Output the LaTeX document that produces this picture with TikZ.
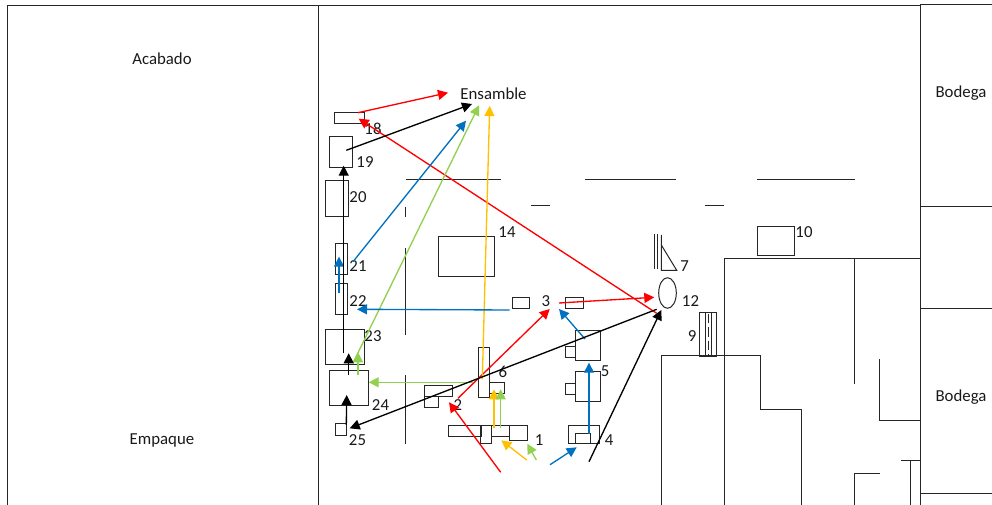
\documentclass[tikz,border=0pt]{standalone}
\usepackage{fontspec}
\setmainfont{Carlito}
\usetikzlibrary{positioning,shapes.geometric,arrows.meta}
\tikzset{
  wall/.style={black!85,line width=0.75pt},
  machine/.style={draw=black!85,line width=0.75pt,inner sep=0pt,rectangle},
  boxsize/.style 2 args={minimum width=#1*0.75pt,minimum height=#2*0.75pt},
  flow/.style={line width=1pt,-{Triangle[length=7.5pt,width=7.5pt]}},
  lbl/.style={inner sep=0pt,yshift=-0.3pt,font=\fontsize{12.6pt}{15pt}\selectfont,text=black!90}
}
\definecolor{flowblue}{HTML}{0070C0}
\definecolor{flowgreen}{HTML}{92D050}
\definecolor{flowyellow}{HTML}{FFC000}
\begin{document}
\begin{tikzpicture}[x=0.75pt,y=-0.75pt]
\useasboundingbox (0,0) rectangle (992,505);
% outer walls
\draw [wall] (7.5,505) -- (7.5,6) -- (920,6);
\draw [wall] (318,6) -- (318,505);
\draw [wall] (992,5) -- (920,5) -- (920,505);
\draw [wall] (920,206.3) -- (992,206.3);
\draw [wall] (920,308.7) -- (992,308.7);
\draw [wall] (920,493.3) -- (992,493.3);
% inner walls
\draw [wall] (406,180) -- (500.7,180);
\draw [wall] (585,180) -- (676,180);
\draw [wall] (757.3,180) -- (855,180);
\draw [wall] (531,206) -- (550,206);
\draw [wall] (705.3,206) -- (724,206);
\draw [wall] (405.7,206.7) -- (405.7,217.3);
\draw [wall] (405.7,248.3) -- (405.7,334.7);
\draw [wall] (405.7,375.3) -- (405.7,443.7);
\draw [wall] (661.7,505) -- (661.7,356) -- (760.7,356) -- (760.7,410) -- (801.3,410) -- (801.3,505);
\draw [wall] (724,505) -- (724,259) -- (920,259);
\draw [wall] (854.7,259) -- (854.7,384.3);
\draw [wall] (879.7,359.3) -- (879.7,420.3) -- (920,420.3);
\draw [wall] (901,460.3) -- (920,460.3);
\draw [wall] (910.3,460.3) -- (910.3,505);
\draw [wall] (879.7,473.7) -- (854.7,473.7) -- (854.7,505);
% machines
\node [machine,boxsize={29.5}{11}] (box18) at (349.7,118.5) {};
\node [machine,boxsize={23}{31}] (box19) at (341,152.2) {};
\node [machine,boxsize={23.4}{35.3}] (box20) at (337,198.6) {};
\node [machine,boxsize={11.7}{31}] (box21) at (341.2,259.2) {};
\node [machine,boxsize={11.7}{31}] (box22) at (341.2,299.2) {};
\node [machine,boxsize={38.7}{34.6}] (box23) at (344.7,347) {};
\node [machine,boxsize={38.7}{34.7}] (box24) at (348.7,387.7) {};
\node [machine,boxsize={11.3}{11.3}] (box25) at (340.7,429.4) {};
\node [machine,boxsize={55.6}{40.4}] (box14) at (466.5,256.5) {};
\node [machine,boxsize={28.4}{11}] (box2) at (438.5,390.8) {};
\node [machine,boxsize={14}{11}] (box2b) at (431.3,401.8) {};
\node [machine,boxsize={11.3}{50.3}] (box6) at (484.3,372.8) {};
\node [machine,boxsize={14.7}{11.4}] (box6b) at (497.3,388) {};
\node [machine,boxsize={33}{11.3}] (box1a) at (464.8,431.3) {};
\node [machine,boxsize={17.7}{11.3}] (box1c) at (500.8,431.3) {};
\node [machine,boxsize={11.3}{18}] (box1b) at (486.3,434.7) {};
\node [machine,boxsize={17.6}{14.6}] (box1d) at (518.5,433) {};
\node [machine,boxsize={17.4}{11.3}] (box3a) at (521,302.7) {};
\node [machine,boxsize={17.6}{11.3}] (box3b) at (574.5,302.7) {};
\node [machine,boxsize={25}{30}] (box5a) at (588.2,346) {};
\node [machine,boxsize={10}{11.3}] (box5b) at (570.7,351.7) {};
\node [machine,boxsize={25}{30}] (box5c) at (588.2,386.3) {};
\node [machine,boxsize={10}{11.3}] (box5d) at (570.7,388.7) {};
\node [machine,boxsize={31}{18}] (box4) at (583.8,434.7) {};
\node [machine,boxsize={14.6}{10}] (box4b) at (583,438.7) {};
\node [machine,boxsize={37.4}{28.7}] (box10) at (776,240.7) {};
\node [machine,boxsize={17.4}{43.7}] (box9) at (708,334.2) {};
\node [machine,ellipse,boxsize={17.6}{30.6}] (oval12) at (667.5,293) {};
\draw [wall] (705.3,312.3) -- (705.3,356);
\draw [wall] (711,312.3) -- (711,356);
\draw [wall,line width=0.5pt,dash pattern=on 7pt off 3pt] (708,314) -- (708,356);
\draw [wall] (654.7,234.3) -- (654.7,269.3);
\draw [wall] (657.3,234.3) -- (657.3,269.3);
\draw [wall] (661.3,235) -- (661.3,270.3) -- (676.7,270.3) -- (661.3,245);
% labels
\node [lbl] (acabado) at (162,58) {Acabado};
\node [lbl] (empaque) at (162,440) {Empaque};
\node [lbl] (ensamble) at (493.5,93) {Ensamble};
\node [lbl] (bodegaA) at (961,92.5) {Bodega};
\node [lbl] (bodegaB) at (961,396.5) {Bodega};
\node [lbl] (num18) at (373,128) {18};
\node [lbl] (num19) at (365,162) {19};
\node [lbl] (num20) at (358,197) {20};
\node [lbl] (num21) at (358,266) {21};
\node [lbl] (num22) at (358,301) {22};
\node [lbl] (num23) at (373,336) {23};
\node [lbl] (num24) at (380.5,405) {24};
\node [lbl] (num25) at (357.5,440) {25};
\node [lbl] (num14) at (507,232) {14};
\node [lbl] (num3) at (546,301) {3};
\node [lbl] (num12) at (690.5,301) {12};
\node [lbl] (num7) at (684.5,266) {7};
\node [lbl] (num9) at (692,336) {9};
\node [lbl] (num10) at (804,232) {10};
\node [lbl] (num5) at (605,371) {5};
\node [lbl] (num6) at (503,371) {6};
\node [lbl] (num2) at (458,405) {2};
\node [lbl] (num1) at (539,440) {1};
\node [lbl] (num4) at (609,440) {4};
% arrow ends
\coordinate (inA) at (500.7,472.3);
\coordinate (inB) at (526.7,460);
\coordinate (inC) at (536.3,460);
\coordinate (inD) at (550,464.7);
\coordinate (inE) at (589,461.7);
\coordinate (to2) at (449,402.3);
\coordinate (to1a) at (501.3,440.3);
\coordinate (to1b) at (527.3,443.7);
\coordinate (to4) at (576.7,447.3);
\coordinate (to12a) at (661.3,310);
\coordinate (from4) at (589,433.7);
\coordinate (to5) at (589,362.7);
\coordinate (from5) at (585,339);
\coordinate (to3a) at (559,309);
\coordinate (from2) at (458,398.3);
\coordinate (to3b) at (549.7,309);
\coordinate (from3b) at (559,303);
\coordinate (to12b) at (654.3,297.3);
\coordinate (from3a) at (509.7,310);
\coordinate (to22) at (357,309.3);
\coordinate (from12a) at (656.7,309.3);
\coordinate (to25) at (349.7,428.3);
\coordinate (from12b) at (656.7,313.3);
\coordinate (to18) at (358.7,118.7);
\coordinate (from1y) at (494,428.3);
\coordinate (to6y) at (494,389.3);
\coordinate (from1g) at (500.7,428.3);
\coordinate (to6g) at (500.7,389.3);
\coordinate (from6y) at (482.3,379.3);
\coordinate (toEy) at (489.7,106);
\coordinate (from6g) at (473,382.3);
\coordinate (to24) at (368.7,382.3);
\coordinate (from25) at (346.3,425);
\coordinate (to24b) at (346.7,395);
\coordinate (from24k) at (348.7,374.7);
\coordinate (to23k) at (348.7,353.3);
\coordinate (from24g) at (358,374.7);
\coordinate (to23g) at (358,352.3);
\coordinate (from23k) at (343.7,353.3);
\coordinate (to19) at (343.7,165.7);
\coordinate (from23g) at (353,363);
\coordinate (toEg) at (479,105.3);
\coordinate (from22) at (339,292.7);
\coordinate (to21) at (339,256.7);
\coordinate (from21) at (353,261.7);
\coordinate (toEb) at (466,120.7);
\coordinate (from19) at (346.3,150.3);
\coordinate (toEk) at (472,104);
\coordinate (from18) at (358,112.7);
\coordinate (toEr) at (448,92.7);
% flows
\draw [flow,red] (inA) -- (to2);
\draw [flow,red] (from2) -- (to3b);
\draw [flow,red] (from3b) -- (to12b);
\draw [flow,red] (from12b) -- (to18);
\draw [flow,red] (from18) -- (toEr);
\draw [flow,flowyellow] (inB) -- (to1a);
\draw [flow,flowyellow] (from1y) -- (to6y);
\draw [flow,flowyellow] (from6y) -- (toEy);
\draw [flow,flowgreen] (inC) -- (to1b);
\draw [flow,flowgreen] (from1g) -- (to6g);
\draw [flow,flowgreen] (from6g) -- (to24);
\draw [flow,flowgreen] (from24g) -- (to23g);
\draw [flow,flowgreen] (from23g) -- (toEg);
\draw [flow,flowblue] (inD) -- (to4);
\draw [flow,flowblue] (from4) -- (to5);
\draw [flow,flowblue] (from5) -- (to3a);
\draw [flow,flowblue] (from3a) -- (to22);
\draw [flow,flowblue] (from22) -- (to21);
\draw [flow,flowblue] (from21) -- (toEb);
\draw [flow,black] (inE) -- (to12a);
\draw [flow,black] (from12a) -- (to25);
\draw [flow,black] (from25) -- (to24b);
\draw [flow,black] (from24k) -- (to23k);
\draw [flow,black] (from23k) -- (to19);
\draw [flow,black] (from19) -- (toEk);
\end{tikzpicture}
\end{document}
